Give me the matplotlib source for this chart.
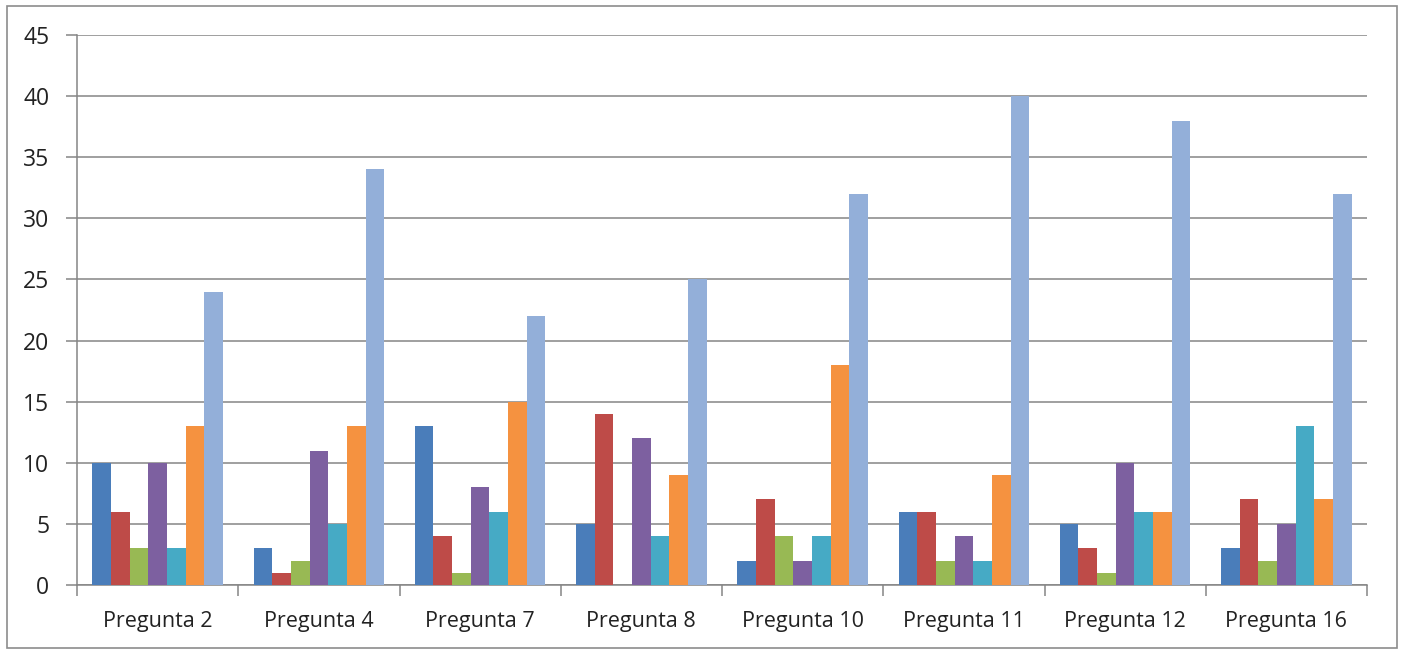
import numpy as np
import matplotlib
matplotlib.use('Agg')
import matplotlib.pyplot as plt
from matplotlib.patches import Rectangle

preguntas = ['Pregunta 2', 'Pregunta 4', 'Pregunta 7', 'Pregunta 8',
             'Pregunta 10', 'Pregunta 11', 'Pregunta 12', 'Pregunta 16']

serie_1 = [10, 3, 13, 5, 2, 6, 5, 3]
serie_2 = [6, 1, 4, 14, 7, 6, 3, 7]
serie_3 = [3, 2, 1, 0, 4, 2, 1, 2]
serie_4 = [10, 11, 8, 12, 2, 4, 10, 5]
serie_5 = [3, 5, 6, 4, 4, 2, 6, 13]
serie_6 = [13, 13, 15, 9, 18, 9, 6, 7]
serie_7 = [24, 34, 22, 25, 32, 40, 38, 32]

series = [serie_1, serie_2, serie_3, serie_4, serie_5, serie_6, serie_7]
colores = ['#4A7DBA', '#BE4B48', '#98B954', '#7D60A0', '#46AAC5', '#F59240', '#93AFD9']

plt.rcParams['font.family'] = ['Open Sans', 'DejaVu Sans']

fig = plt.figure(figsize=(14.05, 6.53), dpi=100)
ax = fig.add_axes([77 / 1405, 68 / 653, 1290 / 1405, 550 / 653])

# outer chart frame
fig.patches.append(Rectangle((7 / 1405, 5 / 653), 1390 / 1405, 642 / 653,
                             transform=fig.transFigure, fill=False,
                             edgecolor='#8C8C8C', linewidth=1.2))

x = np.arange(len(preguntas))
n = len(series)
ancho = 0.81 / n
for i, (vals, col) in enumerate(zip(series, colores)):
    ax.bar(x + (i - (n - 1) / 2) * ancho, vals, width=ancho, color=col,
           zorder=3, linewidth=0)

ax.set_xlim(-0.5, len(preguntas) - 0.5)
ax.set_ylim(0, 45)
ax.set_yticks(range(0, 46, 5))
ax.grid(axis='y', color='#858585', linewidth=1.1, zorder=1)

ax.set_xticks(np.arange(len(preguntas) + 1) - 0.5)
ax.set_xticklabels([])
ax.set_xticks(x, minor=True)
ax.set_xticklabels(preguntas, minor=True, fontsize=15.5, color='#222222')
ax.tick_params(axis='x', which='minor', length=0, pad=19)
ax.tick_params(axis='x', which='major', length=8, color='#858585', width=1.1)
ax.tick_params(axis='y', length=8, color='#858585', width=1.1,
               labelsize=16.5, labelcolor='#222222', pad=12)

for s in ['top', 'right']:
    ax.spines[s].set_visible(False)
for s in ['left', 'bottom']:
    ax.spines[s].set_color('#858585')
    ax.spines[s].set_linewidth(1.1)

fig.savefig('out.png', dpi=100)
